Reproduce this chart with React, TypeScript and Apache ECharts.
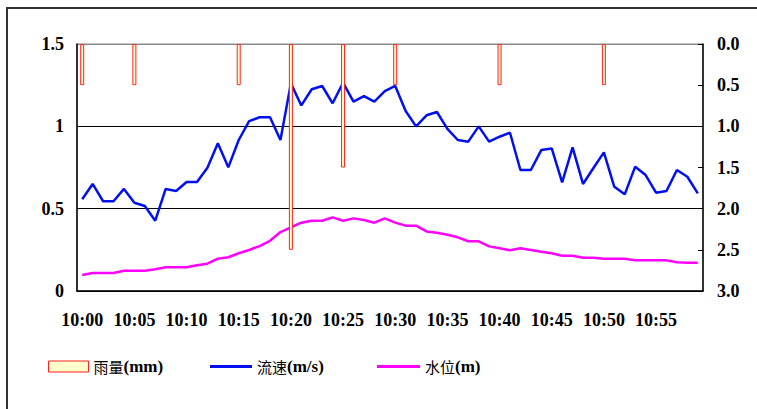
import React, { useEffect, useRef } from "react";
import * as echarts from "echarts";

const categories: string[] = [];
for (let m = 0; m < 60; m++) categories.push(`10:${m < 10 ? "0" + m : m}`);

const flowSpeed = [
  0.557, 0.65, 0.545, 0.545, 0.62, 0.536, 0.516, 0.427, 0.62, 0.607,
  0.662, 0.662, 0.749, 0.897, 0.751, 0.917, 1.032, 1.055, 1.055, 0.917,
  1.261, 1.127, 1.225, 1.245, 1.14, 1.265, 1.15, 1.184, 1.15, 1.214,
  1.245, 1.093, 1.0, 1.067, 1.087, 0.985, 0.917, 0.907, 1.0, 0.907,
  0.937, 0.961, 0.735, 0.735, 0.856, 0.866, 0.66, 0.872, 0.65, 0.747,
  0.842, 0.633, 0.587, 0.755, 0.704, 0.597, 0.607, 0.735, 0.694, 0.593,
];

const waterLevel = [
  0.097, 0.109, 0.109, 0.109, 0.123, 0.123, 0.123, 0.132, 0.144, 0.144,
  0.144, 0.156, 0.166, 0.196, 0.205, 0.229, 0.249, 0.273, 0.305, 0.358,
  0.387, 0.415, 0.427, 0.427, 0.447, 0.427, 0.441, 0.431, 0.415, 0.441,
  0.415, 0.397, 0.397, 0.362, 0.354, 0.342, 0.326, 0.302, 0.302, 0.271,
  0.259, 0.247, 0.259, 0.249, 0.239, 0.229, 0.214, 0.214, 0.202, 0.202,
  0.196, 0.196, 0.196, 0.186, 0.186, 0.186, 0.186, 0.174, 0.172, 0.172,
];

const rainfall: (number | null)[] = [
  0.5, null, null, null, null, 0.5, null, null, null, null,
  null, null, null, null, null, 0.5, null, null, null, null,
  2.5, null, null, null, null, 1.5, null, null, null, null,
  0.5, null, null, null, null, null, null, null, null, null,
  0.5, null, null, null, null, null, null, null, null, null,
  0.5, null, null, null, null, null, null, null, null, null,
];

const seriesNames = ["雨量(mm)", "流速(m/s)", "水位(m)"];
const leftTicks = { min: 0, max: 1.5, interval: 0.5 };
const rightTicks = { min: 0, max: 3, interval: 0.5 };

const SERIF = "Liberation Serif";
const CJK = "Noto Sans CJK SC";
const BLUE = "#0010F0";
const MAGENTA = "#FF00FF";

export default function App() {
  const ref = useRef<HTMLDivElement>(null);
  useEffect(() => {
    if (!ref.current) return;
    const chart = echarts.init(ref.current, undefined, { renderer: "svg" });
    const legendText = {
      fontFamily: SERIF,
      fontSize: 17,
      fontWeight: "bold" as const,
      color: "#000",
      rich: {
        c: { fontFamily: CJK, fontSize: 15, color: "#000", fontWeight: "normal" as const },
        l: { fontFamily: SERIF, fontSize: 17, fontWeight: "bold" as const, color: "#000" },
      },
    };
    const fmt = (name: string) => name.replace(/^([^(]+)(\(.*\))$/, "{c|$1}{l|$2}");
    chart.setOption({
      animation: false,
      backgroundColor: "#fff",
      grid: { left: 77, right: 54, top: 44, bottom: 118, show: true, borderColor: "#888", borderWidth: 1, backgroundColor: "transparent" },
      graphic: [
        {
          type: "rect",
          shape: { x: 7, y: 8, width: 800, height: 450 },
          style: { fill: "none", stroke: "#333", lineWidth: 2 },
          silent: true,
        },
      ],
      legend: [
        {
          data: [{ name: seriesNames[0], icon: "rect", itemStyle: { color: "#FFFFCC", borderColor: "#FF2020", borderWidth: 1 } }],
          left: 48, top: 358, padding: 0, itemWidth: 40, itemHeight: 11,
          formatter: fmt, textStyle: legendText, selectedMode: false,
        },
        {
          data: [{ name: seriesNames[1], icon: "rect", itemStyle: { color: BLUE } }],
          left: 210, top: 358, padding: 0, itemWidth: 42, itemHeight: 3,
          formatter: fmt, textStyle: legendText, selectedMode: false,
        },
        {
          data: [{ name: seriesNames[2], icon: "rect", itemStyle: { color: MAGENTA } }],
          left: 377, top: 358, padding: 0, itemWidth: 43, itemHeight: 3,
          formatter: fmt, textStyle: legendText, selectedMode: false,
        },
      ],
      xAxis: {
        type: "category",
        data: categories,
        boundaryGap: true,
        axisLine: { lineStyle: { color: "#000", width: 1.5 } },
        axisTick: { inside: true, length: 4, interval: 0, lineStyle: { color: "#000" } },
        axisLabel: {
          interval: 4, margin: 20, color: "#000",
          fontFamily: SERIF, fontSize: 18, fontWeight: "bold",
        },
        splitLine: { show: false },
      },
      yAxis: [
        {
          type: "value",
          min: leftTicks.min, max: leftTicks.max, interval: leftTicks.interval,
          axisLine: { show: true, lineStyle: { color: "#000", width: 1.5 } },
          axisTick: { show: false },
          axisLabel: { margin: 13, color: "#000", fontFamily: SERIF, fontSize: 18, fontWeight: "bold" },
          splitLine: { show: true, lineStyle: { color: ["#000", "#000", "#000", "#888"], width: 1 } },
        },
        {
          type: "value",
          inverse: true,
          min: rightTicks.min, max: rightTicks.max, interval: rightTicks.interval,
          position: "right",
          axisLine: { show: true, lineStyle: { color: "#000", width: 1.5 } },
          axisTick: { show: true, inside: true, length: 5, lineStyle: { color: "#000" } },
          axisLabel: {
            margin: 14, color: "#000", fontFamily: SERIF, fontSize: 18, fontWeight: "bold",
            formatter: (v: number) => v.toFixed(1),
          },
          splitLine: { show: false },
        },
      ],
      series: [
        {
          name: seriesNames[1],
          type: "line",
          yAxisIndex: 0,
          data: flowSpeed,
          symbol: "none",
          lineStyle: { color: BLUE, width: 2.5 },
          itemStyle: { color: BLUE },
          z: 3,
        },
        {
          name: seriesNames[2],
          type: "line",
          yAxisIndex: 0,
          data: waterLevel,
          symbol: "none",
          lineStyle: { color: MAGENTA, width: 2.5 },
          itemStyle: { color: MAGENTA },
          z: 3,
        },
        {
          name: seriesNames[0],
          type: "bar",
          yAxisIndex: 1,
          data: rainfall,
          barWidth: 4,
          itemStyle: { color: "#FFFFCC", borderColor: "#FF2020", borderWidth: 1 },
          z: 4,
        },
      ],
    });
    return () => chart.dispose();
  }, []);
  return (
    <div
      ref={ref}
      style={{ position: "fixed", left: 0, top: 0, width: 757, height: 409 }}
    />
  );
}
